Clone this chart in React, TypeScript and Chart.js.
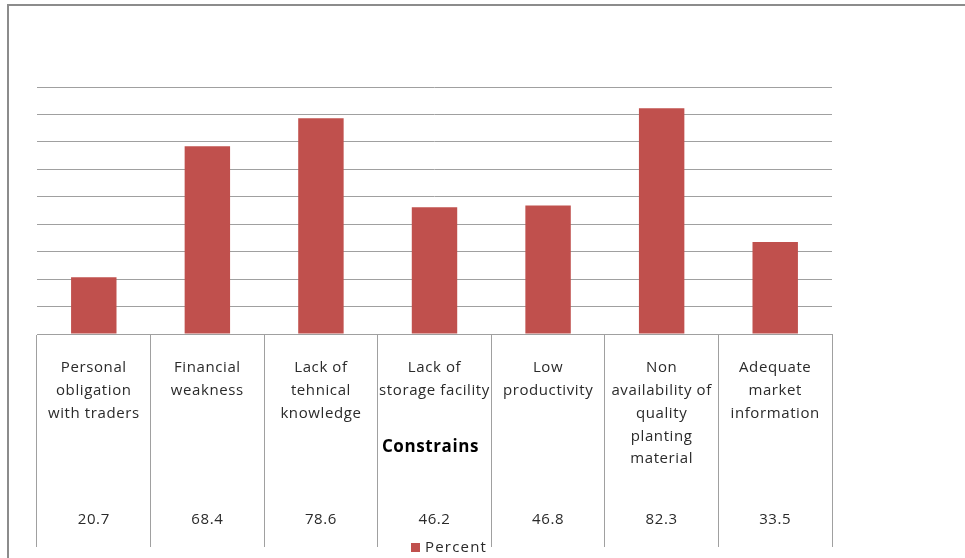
import React, { useEffect, useRef } from "react";
import { Chart, registerables } from "chart.js";

Chart.register(...registerables);

const categories: string[][] = [
  ["Personal", "obligation", "with traders"],
  ["Financial", "weakness"],
  ["Lack of", "tehnical", "knowledge"],
  ["Lack of", "storage facility"],
  ["Low", "productivity"],
  ["Non", "availability of", "quality", "planting", "material"],
  ["Adequate", "market", "information"],
];
const percent: number[] = [20.7, 68.4, 78.6, 46.2, 46.8, 82.3, 33.5];
const valueLabels: string[] = ["20.7", "68.4", "78.6", "46.2", "46.8", "82.3", "33.5"];
const axisTitle = "Constrains";
const seriesName = "Percent";
const yMin = 0;
const yMax = 90;
const yStep = 10;

const FONT = "'Open Sans', 'Liberation Sans', sans-serif";
const BAR_COLOR = "#C0504D";
const LINE_COLOR = "#a0a0a0";
const TEXT_COLOR = "#2a2a2a";

const tablePlugin = {
  id: "tablePlugin",
  beforeDraw(chart: any) {
    const ctx = chart.ctx;
    ctx.save();
    ctx.fillStyle = "#ffffff";
    ctx.fillRect(0, 0, chart.width, chart.height);
    ctx.restore();
  },
  afterDraw(chart: any) {
    const ctx = chart.ctx;
    const x = chart.scales.x;
    const area = chart.chartArea;
    ctx.save();
    // outer frame
    ctx.strokeStyle = "#8c8c8c";
    ctx.lineWidth = 2;
    ctx.beginPath();
    ctx.moveTo(8, chart.height);
    ctx.lineTo(8, 5);
    ctx.lineTo(chart.width, 5);
    ctx.stroke();

    ctx.textAlign = "center";
    ctx.textBaseline = "middle";
    ctx.fillStyle = TEXT_COLOR;
    ctx.font = "15px " + FONT;
    (ctx as any).letterSpacing = "0.6px";
    categories.forEach((lines, i) => {
      const cx = x.getPixelForValue(i);
      lines.forEach((l, j) => ctx.fillText(l, cx, area.bottom + 34 + j * 22.8));
      ctx.fillText(valueLabels[i], cx, area.bottom + 186);
    });

    ctx.font = "bold 17px " + FONT;
    (ctx as any).letterSpacing = "0.6px";
    ctx.fillStyle = "#000000";
    ctx.fillText(axisTitle, (area.left + area.right) / 2 - 4, area.bottom + 113);

    // legend
    const ly = area.bottom + 214;
    ctx.fillStyle = BAR_COLOR;
    ctx.fillRect(411, ly - 5, 9, 9);
    ctx.fillStyle = TEXT_COLOR;
    ctx.textAlign = "left";
    ctx.font = "15px " + FONT;
    (ctx as any).letterSpacing = "1.2px";
    ctx.fillText(seriesName, 425, ly);
    ctx.restore();
  },
};

export default function App() {
  const ref = useRef<HTMLCanvasElement | null>(null);
  useEffect(() => {
    if (!ref.current) return;
    const chart = new Chart(ref.current, {
      type: "bar",
      data: {
        labels: categories.map((c) => c.join(" ")),
        datasets: [
          {
            label: seriesName,
            data: percent,
            backgroundColor: BAR_COLOR,
            barPercentage: 0.4,
            categoryPercentage: 1,
          },
        ],
      },
      options: {
        animation: false,
        responsive: false,
        devicePixelRatio: 1,
        layout: { padding: { left: 37, right: 133, top: 87, bottom: 0 } },
        plugins: {
          legend: { display: false },
          tooltip: { enabled: false },
          title: { display: false },
        },
        scales: {
          x: {
            offset: true,
            ticks: { display: false },
            grid: {
              offset: true,
              drawOnChartArea: false,
              drawTicks: true,
              tickLength: 213,
              color: LINE_COLOR,
              lineWidth: 1,
            },
            border: { display: true, color: LINE_COLOR, width: 1 },
            afterFit: (s: any) => {
              s.height = 224;
            },
          },
          y: {
            min: yMin,
            max: yMax,
            ticks: { display: false, stepSize: yStep },
            grid: { drawTicks: false, color: LINE_COLOR, lineWidth: 1 },
            border: { display: false },
            afterFit: (s: any) => {
              s.width = 0;
            },
          },
        },
      },
      plugins: [tablePlugin],
    });
    return () => chart.destroy();
  }, []);
  return (
    <div style={{ position: "absolute", left: 0, top: 0, width: 965, height: 558 }}>
      <canvas ref={ref} width={965} height={558} style={{ display: "block" }} />
    </div>
  );
}
